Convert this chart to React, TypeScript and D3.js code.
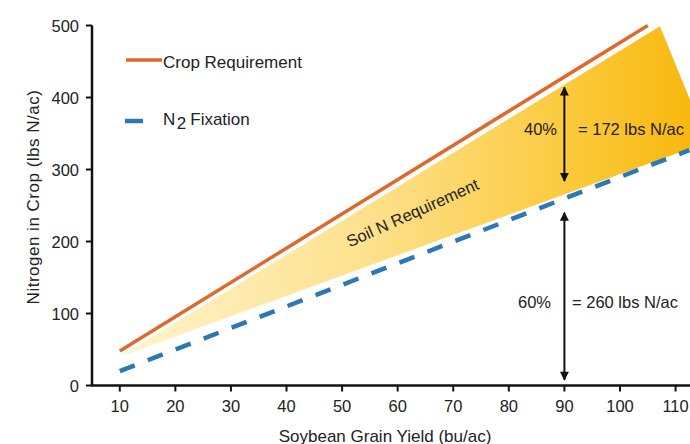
import * as d3 from 'd3'

const yieldTicks = [10, 20, 30, 40, 50, 60, 70, 80, 90, 100, 110]
const nTicks = [0, 100, 200, 300, 400, 500]

// crop requirement and N2 fixation (lbs N/ac) at soybean yield (bu/ac)
const cropYield = [10, 105]
const cropN = [48, 500]
const fixYield = [10, 112.5]
const fixN = [20, 327]

// soil N band (shaded triangle)
const bandYield = [10, 107.2, 115.7]
const bandN = [40, 499, 338]

// annotation arrows at 90 bu/ac
const arrowYield = 90
const upperArrow = [284, 414]
const lowerArrow = [8, 240]

const FONT = '"Liberation Sans", Arial, sans-serif'

export default function App() {
  const width = 690
  const height = 444

  const x = d3.scaleLinear().domain([5, 112.6]).range([92, 690])
  const y = d3.scaleLinear().domain([0, 500]).range([385.5, 25.5])

  const line = d3
    .line<[number, number]>()
    .x(d => x(d[0]))
    .y(d => y(d[1]))

  const crop = line(cropYield.map((v, i) => [v, cropN[i]] as [number, number])) ?? ''
  const fix = line(fixYield.map((v, i) => [v, fixN[i]] as [number, number])) ?? ''
  const band = (line(bandYield.map((v, i) => [v, bandN[i]] as [number, number])) ?? '') + 'Z'

  const ax = x(arrowYield)

  return (
    <svg
      width={width}
      height={height}
      viewBox={`0 0 ${width} ${height}`}
      style={{ position: 'absolute', left: 0, top: 0, background: '#fff', fontFamily: FONT }}
    >
      <defs>
        <linearGradient id="soil" gradientUnits="userSpaceOnUse" x1={x(10)} x2={690} y1={0} y2={0}>
          <stop offset="0" stopColor="#fff4cc" />
          <stop offset="0.45" stopColor="#fde08a" />
          <stop offset="0.8" stopColor="#fbc93a" />
          <stop offset="1" stopColor="#f8b80e" />
        </linearGradient>
        <marker id="head" viewBox="0 0 10 10" refX="9" refY="5" markerWidth="10" markerHeight="9" orient="auto-start-reverse" markerUnits="userSpaceOnUse">
          <path d="M0,0 L10,5 L0,10 Z" fill="#111" />
        </marker>
      </defs>

      <path d={band} fill="url(#soil)" />

      <path d={crop} fill="none" stroke="#dd6a2c" strokeWidth={3.5} />
      <path d={fix} fill="none" stroke="#2b78b5" strokeWidth={4.5} strokeDasharray="16 14" />

      {/* axes */}
      <line x1={92} x2={92} y1={y(500)} y2={y(0)} stroke="#111" strokeWidth={2.5} />
      <line x1={91} x2={690} y1={y(0)} y2={y(0)} stroke="#111" strokeWidth={2.5} />
      {nTicks.map(t => (
        <g key={`y-${t}`}>
          <line x1={86} x2={92} y1={y(t)} y2={y(t)} stroke="#111" strokeWidth={2} />
          <text x={79} y={y(t) + 6} textAnchor="end" fontSize={16.5} fill="#222">
            {t}
          </text>
        </g>
      ))}
      {yieldTicks.map(t => (
        <g key={`x-${t}`}>
          <line x1={x(t)} x2={x(t)} y1={y(0)} y2={y(0) + 6} stroke="#111" strokeWidth={2} />
          <text x={x(t)} y={411.5} textAnchor="middle" fontSize={16.5} fill="#222">
            {t}
          </text>
        </g>
      ))}
      <text x={385} y={441.5} textAnchor="middle" fontSize={17} fill="#222">
        Soybean Grain Yield (bu/ac)
      </text>
      <text transform="translate(39,197) rotate(-90)" textAnchor="middle" fontSize={17} letterSpacing={0.5} fill="#222">
        Nitrogen in Crop (lbs N/ac)
      </text>

      {/* legend */}
      <line x1={126} x2={162} y1={60} y2={60} stroke="#dd6a2c" strokeWidth={3.5} />
      <text x={163} y={68} fontSize={17} fill="#222">Crop Requirement</text>
      <line x1={125} x2={143} y1={121} y2={121} stroke="#2b78b5" strokeWidth={4.5} />
      <text x={163} y={125} fontSize={17} fill="#222">
        N<tspan dx={1.5} dy={4}>2</tspan><tspan dx={4} dy={-4}>Fixation</tspan>
      </text>

      {/* soil N label */}
      <text transform="translate(415,218) rotate(-24.3)" textAnchor="middle" fontSize={16.5} fill="#222">
        Soil N Requirement
      </text>

      {/* arrows */}
      <line x1={ax} x2={ax} y1={y(upperArrow[0])} y2={y(upperArrow[1])} stroke="#111" strokeWidth={2} markerStart="url(#head)" markerEnd="url(#head)" />
      <line x1={ax} x2={ax} y1={y(lowerArrow[0])} y2={y(lowerArrow[1])} stroke="#111" strokeWidth={2} markerStart="url(#head)" markerEnd="url(#head)" />

      <text x={540.5} y={135} textAnchor="middle" fontSize={16.5} fill="#222">40%</text>
      <text x={578} y={135} fontSize={16.5} fill="#222">= 172 lbs N/ac</text>
      <text x={534.5} y={308} textAnchor="middle" fontSize={16.5} fill="#222">60%</text>
      <text x={572} y={308} fontSize={16.5} fill="#222">= 260 lbs N/ac</text>
    </svg>
  )
}
